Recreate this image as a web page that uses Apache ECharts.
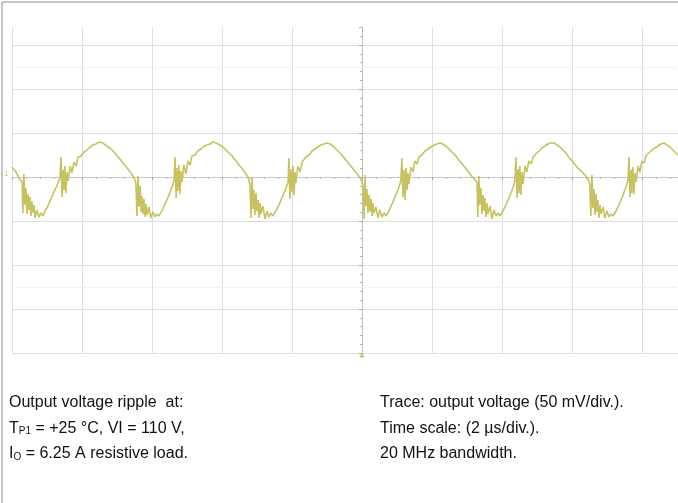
<!DOCTYPE html>
<html><head><meta charset="utf-8">
<script src="https://cdn.jsdelivr.net/npm/echarts@6/dist/echarts.min.js"></script>
<style>html,body{margin:0;padding:0;background:#fff}#c{width:678px;height:503px}</style>
</head><body><div id="c"></div>
<script>
// time in µs from the left edge of the screen (2 µs/div), ripple in mV (50 mV/div)
const timeUs = [
 0.00,0.11,0.20,0.29,0.31,0.34,0.37,0.40,0.43,0.46,0.49,0.51,0.54,0.57,0.60,0.63,0.66,0.71,0.77,0.83,0.89,0.94,1.03,1.11,1.20,1.29,1.37,1.40,1.43,1.46,1.49,1.51,1.54,1.57,1.60,1.66,1.71,1.77,1.83,1.89,1.97,2.06,2.14,2.23,2.31,2.40,2.49,
 2.60,2.71,2.83,2.94,3.06,3.17,3.29,3.40,3.49,3.54,3.57,3.60,3.63,3.66,3.69,3.71,3.74,3.77,3.80,3.83,3.86,3.91,3.97,4.03,4.09,4.14,4.20,4.29,4.37,4.46,4.54,4.63,4.66,4.69,4.71,4.74,4.77,4.80,4.83,4.86,4.91,4.97,5.03,5.09,5.14,5.23,5.31,5.40,5.49,5.57,5.66,5.74,5.83,
 5.94,6.06,6.17,6.29,6.40,6.51,6.63,6.74,6.80,6.83,6.86,6.89,6.91,6.94,6.97,7.00,7.03,7.06,7.09,7.11,7.17,7.23,7.29,7.34,7.40,7.46,7.54,7.63,7.71,7.80,7.89,7.91,7.94,7.97,8.00,8.03,8.06,8.09,8.11,8.17,8.23,8.29,8.34,8.40,8.49,8.57,8.66,8.74,8.83,8.91,9.00,9.09,
 9.20,9.31,9.43,9.54,9.66,9.77,9.89,9.97,10.03,10.06,10.09,10.11,10.14,10.17,10.20,10.23,10.26,10.29,10.31,10.34,10.40,10.46,10.51,10.57,10.63,10.69,10.77,10.86,10.94,11.03,11.11,11.14,11.17,11.20,11.23,11.26,11.29,11.31,11.34,11.40,11.46,11.51,11.57,11.63,11.71,11.80,11.89,11.97,12.06,12.14,12.23,12.31,
 12.43,12.54,12.66,12.77,12.89,13.00,13.11,13.23,13.29,13.31,13.34,13.37,13.40,13.43,13.46,13.49,13.51,13.54,13.57,13.60,13.66,13.71,13.77,13.83,13.89,13.94,14.03,14.11,14.20,14.29,14.37,14.40,14.43,14.46,14.49,14.51,14.54,14.57,14.60,14.66,14.71,14.77,14.83,14.89,14.97,15.06,15.14,15.23,15.31,15.40,15.49,15.57,
 15.69,15.80,15.91,16.03,16.14,16.26,16.37,16.46,16.51,16.54,16.57,16.60,16.63,16.66,16.69,16.71,16.74,16.77,16.80,16.83,16.89,16.94,17.00,17.06,17.11,17.17,17.26,17.34,17.43,17.51,17.60,17.63,17.66,17.69,17.71,17.74,17.77,17.80,17.83,17.89,17.94,18.00,18.06,18.11,18.20,18.29,18.37,18.46,18.54,18.63,18.71,18.83,18.94,19.03
];
const rippleMv = [
 11.4,5.7,-1.1,-5.7,-40.9,3.4,-31.8,-12.5,-42.0,-19.3,-37.5,-22.7,-44.3,-27.3,-40.9,-31.8,-46.6,-37.5,-45.5,-40.9,-44.3,-38.6,-33.0,-25.0,-17.0,-9.1,-1.1,22.7,-22.7,8.0,-14.8,12.5,-18.2,5.7,-4.5,12.5,4.5,17.0,12.5,22.7,23.9,28.4,30.7,34.1,36.4,37.5,39.8,
 38.6,35.2,31.8,27.3,21.6,15.9,10.2,4.5,-1.1,-6.8,-44.3,1.1,-34.1,-10.2,-39.8,-21.6,-42.0,-25.0,-45.5,-30.7,-43.2,-34.1,-46.6,-39.8,-45.5,-42.0,-44.3,-37.5,-30.7,-22.7,-14.8,-4.5,22.7,-23.9,10.2,-15.9,13.6,-19.3,6.8,-5.7,13.6,3.4,18.2,13.6,23.9,25.0,29.5,31.8,35.2,36.4,37.5,39.8,38.6,
 36.4,33.0,28.4,23.9,18.2,12.5,6.8,0.0,-8.0,-46.6,0.0,-36.4,-14.8,-43.2,-18.2,-38.6,-26.1,-46.6,-29.5,-42.0,-33.0,-47.7,-38.6,-45.5,-40.9,-44.3,-38.6,-31.8,-23.9,-15.9,-5.7,21.6,-25.0,9.1,-17.0,12.5,-20.5,5.7,-6.8,12.5,5.7,17.0,14.8,22.7,25.0,29.5,31.8,34.1,36.4,37.5,38.6,37.5,
 34.1,29.5,25.0,19.3,13.6,8.0,2.3,-2.3,-10.2,-47.7,2.3,-33.0,-13.6,-40.9,-20.5,-39.8,-25.0,-44.3,-29.5,-40.9,-34.1,-46.6,-37.5,-45.5,-40.9,-44.3,-38.6,-30.7,-22.7,-14.8,-4.5,21.6,-22.7,8.0,-26.1,10.2,-14.8,4.5,-8.0,11.4,5.7,18.2,14.8,22.7,25.0,29.5,31.8,34.1,36.4,37.5,38.6,37.5,
 34.1,29.5,25.0,19.3,13.6,8.0,2.3,-3.4,-6.8,-45.5,1.1,-31.8,-12.5,-42.0,-20.5,-38.6,-23.9,-45.5,-29.5,-42.0,-33.0,-47.7,-37.5,-44.3,-40.9,-44.3,-38.6,-31.8,-23.9,-14.8,-4.5,22.7,-23.9,9.1,-18.2,12.5,-20.5,5.7,-8.0,12.5,5.7,18.2,14.8,22.7,26.1,29.5,33.0,35.2,37.5,38.6,38.6,36.4,
 33.0,28.4,22.7,17.0,11.4,6.8,2.3,-2.3,-8.0,-44.3,2.3,-35.2,-13.6,-43.2,-19.3,-39.8,-26.1,-46.6,-31.8,-42.0,-34.1,-46.6,-38.6,-45.5,-42.0,-44.3,-38.6,-31.8,-23.9,-14.8,-4.5,22.7,-22.7,8.0,-18.2,11.4,-19.3,4.5,-5.7,12.5,5.7,18.2,15.9,23.9,27.3,30.7,33.0,35.2,37.5,38.6,36.4,33.0,28.4,25.0
];
const timeAxis = { min: 0, max: 19.03, interval: 2 };        // 2 µs/div
const centredTimeAxis = { min: -10, max: 9.03 };              // same span, trigger at 0
const voltAxis = { min: -200, max: 170.45, interval: 50 };    // 50 mV/div
const markerLevelsMv = [125, -125];
const triggerTimeUs = 10;
const leftNotes = [
  '{n|Output voltage ripple  at:}',
  '{n|T}{s|P1}{n| = +25 °C, VI = 110 V,}',
  '{n|I}{s|O}{n| = 6.25 A resistive load.}'
];
const rightNotes = [
  'Trace: output voltage (50 mV/div.).',
  'Time scale: (2 µs/div.).',
  '20 MHz bandwidth.'
];

const FONT = '"Liberation Sans", Arial, Helvetica, sans-serif';
const TRACE = '#c8c160';
const chart = echarts.init(document.getElementById('c'), null, { renderer: 'canvas' });

const rich = {
  n: { fontSize: 16, fontFamily: FONT, color: '#111' },
  s: { fontSize: 10, fontFamily: FONT, color: '#111', verticalAlign: 'bottom' }
};
const graphics = [
  { type: 'rect', silent: true, z: 100, shape: { x: 2, y: 2, width: 900, height: 800 },
    style: { fill: 'none', stroke: '#8c8c8c', lineWidth: 1 } },
  { type: 'text', silent: true, x: 4, y: 174,
    style: { text: '1', font: '8px ' + FONT, fill: TRACE, verticalAlign: 'middle' } }
];
leftNotes.forEach((t, i) => graphics.push({
  type: 'text', silent: true, x: 9, y: 403 + i * 25.5,
  style: { text: t, rich: rich, verticalAlign: 'middle', font: '16px ' + FONT, fill: '#111' }
}));
rightNotes.forEach((t, i) => graphics.push({
  type: 'text', silent: true, x: 380, y: 403 + i * 25.5,
  style: { text: t, verticalAlign: 'middle', font: '16px ' + FONT, fill: '#111' }
}));

chart.setOption({
  animation: false,
  backgroundColor: '#fff',
  grid: { left: 12, top: 27, right: 0, bottom: 150, containLabel: false, outerBoundsMode: 'none' },
  xAxis: [{
    type: 'value', min: timeAxis.min, max: timeAxis.max, interval: timeAxis.interval,
    axisLabel: { show: false },
    axisLine: { show: true, onZero: true, lineStyle: { color: '#c8c8c8', width: 1 } },
    axisTick: { show: true, length: 3, lineStyle: { color: '#a8a8a8' } },
    minorTick: { show: true, splitNumber: 5, length: 2, lineStyle: { color: '#b0b0b0' } },
    splitLine: { show: true, showMaxLine: false, lineStyle: { color: '#dedede', width: 1 } }
  }, {
    type: 'value', show: false, min: centredTimeAxis.min, max: centredTimeAxis.max
  }],
  yAxis: {
    type: 'value', min: voltAxis.min, max: voltAxis.max, interval: voltAxis.interval,
    axisLabel: { show: false },
    axisLine: { show: true, onZero: true, onZeroAxisIndex: 1, lineStyle: { color: '#bdbdbd', width: 1 } },
    axisTick: { show: true, length: 3, lineStyle: { color: '#a8a8a8' } },
    minorTick: { show: true, splitNumber: 5, length: 2, lineStyle: { color: '#b0b0b0' } },
    splitLine: { show: true, showMaxLine: false, lineStyle: { color: '#dedede', width: 1 } }
  },
  graphic: graphics,
  series: [{
    type: 'line', xAxisIndex: 0, yAxisIndex: 0,
    data: timeUs.map((t, i) => [t, rippleMv[i]]),
    showSymbol: false, symbol: 'none', smooth: false,
    lineStyle: { color: TRACE, width: 1.6 },
    z: 5,
    markLine: {
      silent: true, symbol: 'none', label: { show: false }, animation: false,
      lineStyle: { color: '#e6e6e6', type: 'dotted', width: 1 },
      data: markerLevelsMv.map(v => ({ yAxis: v }))
    },
    markPoint: {
      silent: true, symbol: 'triangle', symbolSize: [5, 5], symbolOffset: [0, 2],
      itemStyle: { color: TRACE }, label: { show: false },
      data: [{ coord: [triggerTimeUs, voltAxis.min] }]
    }
  }]
});
</script>
</body></html>
